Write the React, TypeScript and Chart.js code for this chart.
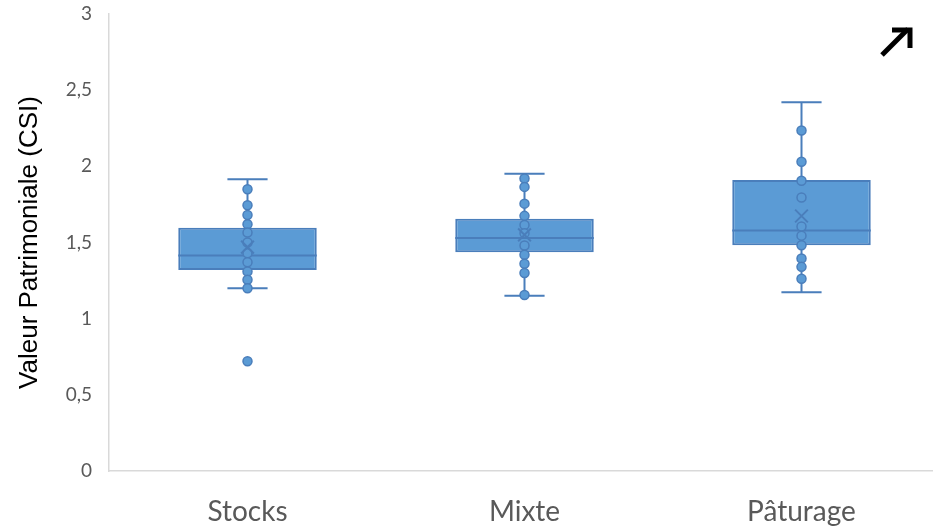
import React, { useEffect, useRef } from "react";
import { Chart, registerables } from "chart.js";

Chart.register(...registerables);

const categories = ["Stocks", "Mixte", "Pâturage"];
const q1 = [1.32, 1.436, 1.482];
const q3 = [1.597, 1.656, 1.91];
const medians = [1.414, 1.53, 1.578];
const means = [1.47, 1.55, 1.674];
const whiskerLow = [1.2, 1.15, 1.173];
const whiskerHigh = [1.915, 1.952, 2.42];
const pointsStocks = [1.85, 1.745, 1.68, 1.62, 1.565, 1.5, 1.43, 1.37, 1.31, 1.255, 1.2, 0.72];
const pointsMixte = [1.92, 1.865, 1.755, 1.675, 1.615, 1.56, 1.48, 1.42, 1.36, 1.3, 1.155];
const pointsPaturage = [2.235, 2.03, 1.905, 1.795, 1.605, 1.545, 1.482, 1.395, 1.34, 1.262];
const yTicks = [0, 0.5, 1, 1.5, 2, 2.5, 3];
const yTitle = "Valeur Patrimoniale (CSI)";

const FILL = "#5B9BD5";
const LINE = "#4A7EBB";

const boxPlugin = {
  id: "boxParts",
  beforeDatasetsDraw(chart: any) {
    const ctx = chart.ctx;
    const y = chart.scales.y;
    const meta = chart.getDatasetMeta(0);
    ctx.save();
    ctx.strokeStyle = LINE;
    ctx.lineWidth = 2;
    meta.data.forEach((bar: any, i: number) => {
      const cx = bar.x;
      const half = bar.width * 0.145;
      const yl = y.getPixelForValue(whiskerLow[i]);
      const yh = y.getPixelForValue(whiskerHigh[i]);
      ctx.beginPath();
      ctx.moveTo(cx, yl);
      ctx.lineTo(cx, yh);
      ctx.moveTo(cx - half, yl);
      ctx.lineTo(cx + half, yl);
      ctx.moveTo(cx - half, yh);
      ctx.lineTo(cx + half, yh);
      ctx.stroke();
    });
    ctx.restore();
  },
  afterDatasetDraw(chart: any, args: any) {
    if (args.index !== 0) return;
    const ctx = chart.ctx;
    const y = chart.scales.y;
    const meta = chart.getDatasetMeta(0);
    ctx.save();
    ctx.strokeStyle = LINE;
    ctx.lineWidth = 2;
    meta.data.forEach((bar: any, i: number) => {
      const ym = y.getPixelForValue(medians[i]);
      ctx.beginPath();
      ctx.moveTo(bar.x - bar.width / 2, ym);
      ctx.lineTo(bar.x + bar.width / 2, ym);
      ctx.stroke();
    });
    ctx.restore();
  },
  afterDraw(chart: any) {
    const ctx = chart.ctx;
    ctx.save();
    ctx.strokeStyle = "#000";
    ctx.lineWidth = 5;
    ctx.lineCap = "butt";
    ctx.lineJoin = "miter";
    ctx.beginPath();
    ctx.moveTo(882, 55);
    ctx.lineTo(908, 29);
    ctx.stroke();
    ctx.beginPath();
    ctx.moveTo(892, 30);
    ctx.lineTo(910, 30);
    ctx.lineTo(910, 48);
    ctx.stroke();
    ctx.restore();
  },
};

export default function App() {
  const ref = useRef<HTMLCanvasElement>(null);
  useEffect(() => {
    if (!ref.current) return;
    const pointData = [
      ...pointsStocks.map((v) => ({ x: categories[0], y: v })),
      ...pointsMixte.map((v) => ({ x: categories[1], y: v })),
      ...pointsPaturage.map((v) => ({ x: categories[2], y: v })),
    ];
    const chart = new Chart(ref.current, {
      type: "bar",
      data: {
        labels: categories,
        datasets: [
          {
            type: "bar",
            data: q1.map((v, i) => [v, q3[i]]) as any,
            backgroundColor: FILL,
            borderColor: LINE,
            borderWidth: 2,
            borderSkipped: false,
            barPercentage: 0.5,
            categoryPercentage: 1,
            order: 2,
          } as any,
          {
            type: "line",
            data: pointData as any,
            showLine: false,
            pointRadius: 4.5,
            pointBackgroundColor: FILL,
            pointBorderColor: LINE,
            pointBorderWidth: 1.5,
            order: 1,
          } as any,
          {
            type: "line",
            data: means,
            showLine: false,
            pointStyle: "crossRot",
            pointRadius: 9,
            pointBorderColor: LINE,
            pointBorderWidth: 2,
            order: 0,
          } as any,
        ],
      },
      options: {
        responsive: false,
        animation: false,
        layout: { autoPadding: false, padding: { top: 14, right: 0, bottom: 0, left: 0 } },
        plugins: { legend: { display: false }, tooltip: { enabled: false } },
        scales: {
          x: {
            type: "category",
            grid: { display: false },
            border: { display: true, color: "#D9D9D9", width: 1.5 },
            ticks: {
              color: "#595959",
              font: { family: "Lato", size: 28 },
              padding: 16,
            },
            afterFit(scale: any) {
              scale.height = 57;
              scale.paddingLeft = 0;
              scale.paddingRight = 0;
            },
          },
          y: {
            min: 0,
            max: 3,
            afterBuildTicks(scale: any) {
              scale.ticks = yTicks.map((v) => ({ value: v }));
            },
            grid: { display: false, drawTicks: false },
            border: { display: true, color: "#D9D9D9", width: 1.5 },
            ticks: {
              color: "#595959",
              font: { family: "Lato", size: 19 },
              padding: 17,
              callback: (v: any) => String(v).replace(".", ","),
            },
            title: {
              display: true,
              text: yTitle,
              color: "#000",
              font: { family: "Liberation Sans", size: 26 },
              padding: { top: 14, bottom: 0 },
            },
            afterFit(scale: any) {
              scale.width = 109;
              scale.paddingTop = 0;
              scale.paddingBottom = 0;
            },
          },
        },
      },
      plugins: [boxPlugin],
    });
    return () => chart.destroy();
  }, []);
  return (
    <div style={{ position: "fixed", left: 0, top: 0, width: 933, height: 528, overflow: "hidden", background: "#fff" }}>
      <canvas ref={ref} width={940} height={528} style={{ display: "block" }} />
    </div>
  );
}
